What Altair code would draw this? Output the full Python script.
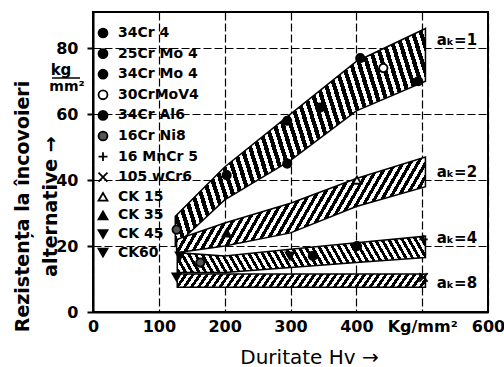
import altair as alt
import pandas as pd

# ---- scatter bands: hardness (HV) vs. alternating bending fatigue strength (kg/mm^2)
band_hv = [125, 200, 300, 400, 505]
ak1_lo = [20, 34, 46, 61, 70]
ak1_hi = [29, 44, 60, 76, 86]
ak2_hv = [127, 200, 300, 400, 505]
ak2_lo = [18, 20, 24, 32, 38]
ak2_hi = [22, 27, 33, 40.5, 47]
ak4_hv = [128, 200, 300, 400, 505]
ak4_lo = [12, 12, 13.5, 15, 16.5]
ak4_hi = [18, 17, 19, 21, 23]
ak8_hv = [128, 505]
ak8_lo = [7.5, 7.5]
ak8_hi = [11.5, 11.5]

band_names = ["aₖ=1", "aₖ=2", "aₖ=4", "aₖ=8"]
band_label_y = [82.4, 42.4, 22.4, 8.8]
band_label_x = [522, 522, 522, 522]

# ---- steel grades (legend order)
grades = ["34Cr 4", "25Cr Mo 4", "34Cr Mo 4", "30CrMoV4", "34Cr Al6", "16Cr Ni8",
          "16 MnCr 5", "105 wCr6", "CK 15", "CK 35", "CK 45", "CK60"]

# ---- individual test points
pt_hv = [406, 441, 494, 345, 295, 295, 203, 127, 132, 299, 334, 401, 502, 502, 163, 203, 401, 127]
pt_s = [77, 74, 70, 62, 58, 45, 41.5, 25, 17, 17, 17, 20, 22, 10.5, 15, 24, 40, 10.6]
pt_grade = ["34Cr 4", "30CrMoV4", "25Cr Mo 4", "34Cr Mo 4", "34Cr 4", "34Cr Al6",
            "25Cr Mo 4", "16Cr Ni8", "CK 45", "CK60", "34Cr 4", "34Cr Mo 4",
            "16 MnCr 5", "105 wCr6", "16Cr Ni8", "CK 35", "CK 15", "CK60"]

# marker styling per grade
PLUS = "M-1,0L1,0M0,-1L0,1"
CROSS = "M-1,-1L1,1M-1,1L1,-1"
grade_shapes = ["circle", "circle", "circle", "circle", "circle", "circle",
                PLUS, CROSS, "triangle-up", "triangle-up", "triangle-down", "triangle-down"]
grade_fills = ["black", "black", "black", "white", "black", "#555555",
               "black", "black", "white", "black", "black", "black"]
grade_strokes = ["black"] * len(grades)

FONT = "DejaVu Sans"


def stripes(n, duty, s):
    """Hard-stop linear gradient used as a hatch fill.

    The gradient runs along (1, s) in bounding-box units and spans the
    whole box, so no corner falls into the padded region.
    """
    x1, y1 = (0.0, 1.0) if s < 0 else (0.0, 0.0)
    span = (1 + abs(s)) / (1 + s * s)
    x2, y2 = x1 + span, y1 + s * span
    stops = []
    for i in range(n):
        a = i / n
        b = (i + duty) / n
        c = (i + 1) / n
        stops += [
            alt.GradientStop(offset=a, color="black"),
            alt.GradientStop(offset=b, color="black"),
            alt.GradientStop(offset=b, color="white"),
            alt.GradientStop(offset=c, color="white"),
        ]
    return alt.LinearGradient(gradient="linear", stops=stops,
                              x1=x1, y1=y1, x2=x2, y2=y2)


x_scale = alt.Scale(domain=[0, 600], nice=False)
y_scale = alt.Scale(domain=[0, 91], nice=False)


def band(hv, lo, hi, fill):
    df = pd.DataFrame({"hv": hv, "lo": lo, "hi": hi})
    return alt.Chart(df).mark_area(fill=fill, stroke="black", strokeWidth=1.5).encode(
        x=alt.X("hv:Q", scale=x_scale),
        y=alt.Y("lo:Q", scale=y_scale),
        y2="hi:Q",
    )


x_axis = alt.Axis(
    values=[0, 100, 200, 300, 400, 500, 600],
    labelExpr="datum.value == 500 ? 'Kg/mm²' : datum.label",
    ticks=False, labelFlush=False, labelOverlap=False,
    grid=True, gridDash=[8, 3], gridColor="black", gridWidth=1.2, gridOpacity=1,
    domainColor="black", domainWidth=2,
    labelFont=FONT, labelFontSize=16, labelFontWeight="bold", labelColor="black", labelPadding=6,
    title="Duritate Hv →", titleFont=FONT, titleFontSize=20, titleFontWeight="normal",
    titleColor="black", titleX=216, titleY=45, titleBaseline="middle",
)
y_axis = alt.Axis(
    values=[0, 20, 40, 60, 80],
    grid=True, gridDash=[8, 3], gridColor="black", gridWidth=1.2, gridOpacity=1,
    domainColor="black", domainWidth=2,
    tickColor="black", tickSize=6, tickWidth=2,
    labelFont=FONT, labelFontSize=16, labelFontWeight="bold", labelColor="black", labelPadding=9,
    title=["Rezistența  la încovoieri", "\u00a0\u00a0\u00a0\u00a0\u00a0alternative →"],
    titleFont=FONT, titleFontSize=19, titleFontWeight="bold", titleColor="black",
    titleX=-71, titleY=194, titleAngle=-90, titleBaseline="middle", titleAlign="center",
    titleLineHeight=28,
)

frame = alt.Chart(pd.DataFrame({"hv": [0], "s": [0]})).mark_point(opacity=0).encode(
    x=alt.X("hv:Q", scale=x_scale, axis=x_axis),
    y=alt.Y("s:Q", scale=y_scale, axis=y_axis),
)

b1 = band(band_hv, ak1_lo, ak1_hi, stripes(40, 0.55, -0.27))
b2 = band(ak2_hv, ak2_lo, ak2_hi, stripes(40, 0.5, 0.22))
b4 = band(ak4_hv, ak4_lo, ak4_hi, stripes(40, 0.5, -0.083))
b8 = band(ak8_hv, ak8_lo, ak8_hi, stripes(36, 0.5, 0.037))

legend = alt.Legend(
    title=None, orient="none", legendX=3, legendY=14, padding=0,
    labelFont=FONT, labelFontSize=14, labelFontWeight="bold", labelColor="black",
    symbolSize=80, symbolStrokeWidth=1.8,
    rowPadding=2.6, labelOffset=8,
)

points_df = pd.DataFrame({"hv": pt_hv, "s": pt_s, "grade": pt_grade})
points = alt.Chart(points_df).mark_point(
    filled=True, strokeWidth=1.8, size=70, opacity=1
).encode(
    x=alt.X("hv:Q", scale=x_scale),
    y=alt.Y("s:Q", scale=y_scale),
    shape=alt.Shape("grade:N", scale=alt.Scale(domain=grades, range=grade_shapes), legend=legend),
    fill=alt.Fill("grade:N", scale=alt.Scale(domain=grades, range=grade_fills), legend=legend),
    stroke=alt.Stroke("grade:N", scale=alt.Scale(domain=grades, range=grade_strokes), legend=legend),
)

labels_df = pd.DataFrame({"hv": band_label_x, "s": band_label_y, "t": band_names})
band_labels = alt.Chart(labels_df).mark_text(
    align="left", baseline="middle", font=FONT, fontSize=15, fontWeight="bold", color="black"
).encode(
    x=alt.X("hv:Q", scale=x_scale),
    y=alt.Y("s:Q", scale=y_scale),
    text="t:N",
)

# unit fraction next to the y axis
unit_kg = alt.Chart(pd.DataFrame({"t": ["kg"]})).mark_text(
    font=FONT, fontSize=15, fontWeight="bold", color="black"
).encode(x=alt.value(-32), y=alt.value(58), text="t:N")
unit_mm = alt.Chart(pd.DataFrame({"t": ["mm²"]})).mark_text(
    font=FONT, fontSize=14, fontWeight="bold", color="black"
).encode(x=alt.value(-26), y=alt.value(75), text="t:N")
unit_bar = alt.Chart(pd.DataFrame({"t": [0]})).mark_rule(color="black", strokeWidth=1.5).encode(
    x=alt.value(-41), x2=alt.value(-13), y=alt.value(66)
)

chart = alt.layer(frame, b1, b2, b4, b8, points, band_labels, unit_kg, unit_mm, unit_bar).properties(
    width=395, height=300,
    autosize=alt.AutoSizeParams(type="none"),
    padding={"left": 93, "top": 12, "right": 16, "bottom": 55},
    background="white",
).configure_view(stroke="black", strokeWidth=2).resolve_scale(
    shape="shared", fill="shared", stroke="shared"
)

chart.save("out.html", embed_options={"renderer": "svg", "actions": False})
